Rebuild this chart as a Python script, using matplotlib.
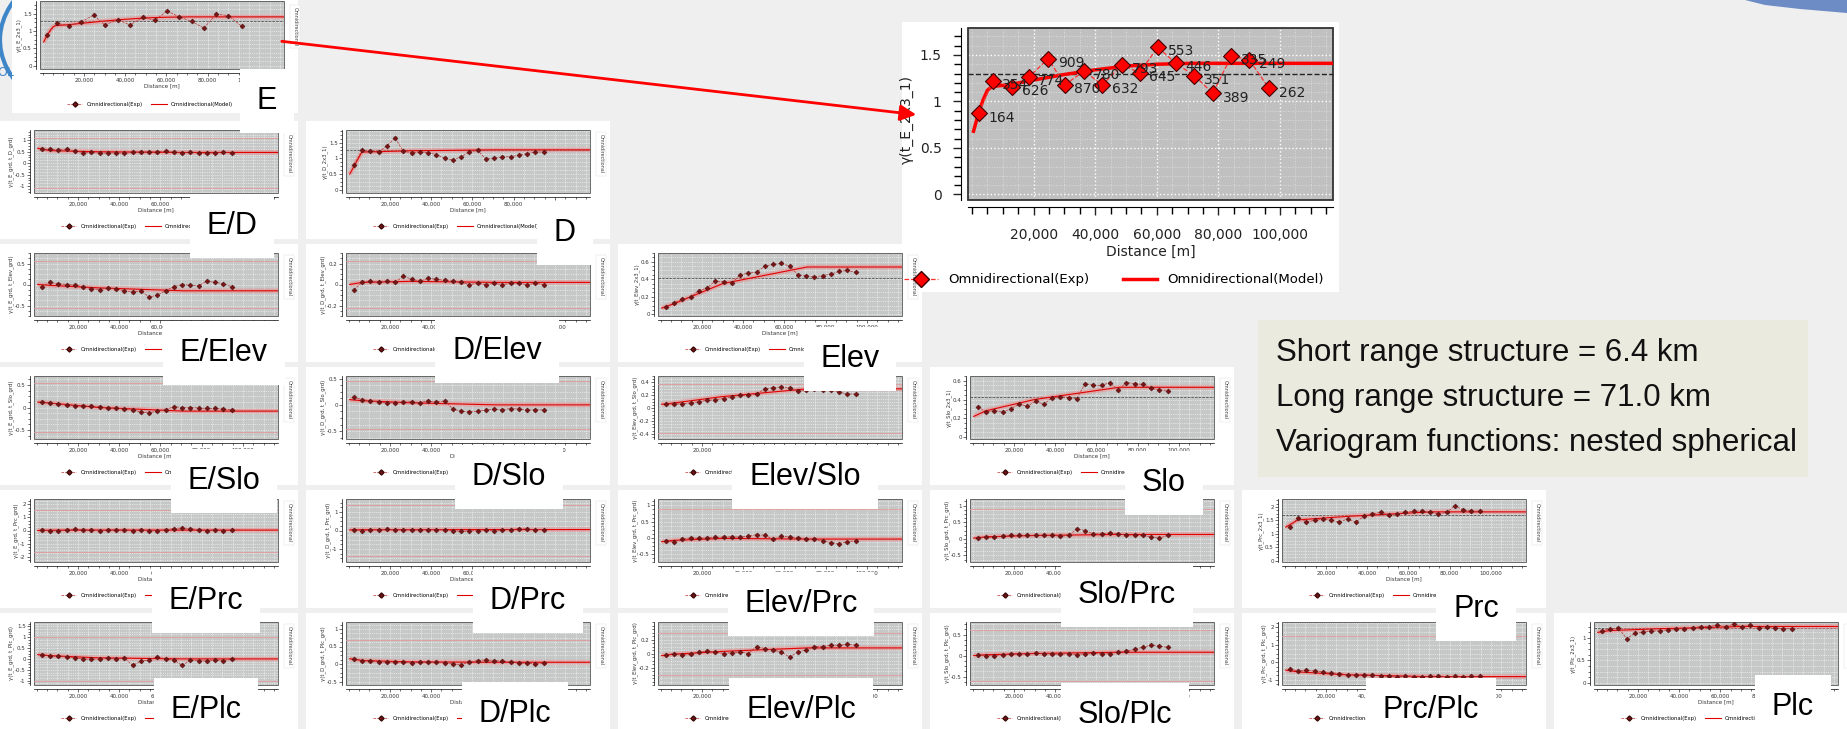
import matplotlib.pyplot as plt
from matplotlib.patches import Rectangle, FancyArrowPatch, Arc, Polygon
from matplotlib.lines import Line2D
from matplotlib.ticker import MultipleLocator, FixedLocator, FuncFormatter, AutoMinorLocator

W, H = 1847, 729

# ---- enlarged variogram (E) ----
big_dist = [2160, 6700, 12970, 18380, 24760, 30050, 36430, 42270, 48650,
            54380, 60320, 66160, 72210, 78160, 84210, 90050, 96430]
big_gamma = [0.872, 1.220, 1.159, 1.260, 1.461, 1.177, 1.328, 1.177, 1.393,
             1.310, 1.583, 1.410, 1.278, 1.087, 1.489, 1.446, 1.141]
big_pairs = [164, 354, 626, 774, 909, 870, 780, 632, 793,
             645, 553, 446, 351, 389, 335, 249, 262]
big_model_dist = [500, 2000, 3500, 5000, 6400, 12000, 20000, 30000, 40000,
                  50000, 60000, 71000, 117000]
big_model_gamma = [0.68, 0.86, 1.01, 1.12, 1.16, 1.18, 1.23, 1.29, 1.34,
                   1.38, 1.40, 1.41, 1.41]
big_sill = 1.296
dist_ticks = [20000, 40000, 60000, 80000, 100000]

# ---- small panels: shared lags ----
lags = [2500, 6500, 10500, 14500, 18500, 22500, 26500, 30500, 34500, 38500,
        42500, 46500, 50500, 54500, 58500, 62500, 66500, 70500, 74500, 78500,
        82500, 86500, 90500, 94500]
model_lags = [500, 6400, 30000, 71000, 117000]

gam_E_D = [0.62, 0.60, 0.58, 0.60, 0.55, 0.45, 0.48, 0.44, 0.45, 0.46, 0.43, 0.47,
           0.48, 0.49, 0.50, 0.52, 0.48, 0.46, 0.47, 0.45, 0.44, 0.46, 0.47, 0.45]
gam_D = [0.80, 1.25, 1.22, 1.20, 1.40, 1.65, 1.22, 1.18, 1.20, 1.18, 1.12, 1.00,
         0.95, 1.05, 1.20, 1.25, 0.98, 1.00, 1.05, 1.05, 1.10, 1.15, 1.20, 1.20]
gam_E_Elev = [-0.05, 0.05, 0.02, 0.00, -0.02, -0.05, -0.10, -0.12, -0.08, -0.10, -0.15, -0.18,
              -0.15, -0.30, -0.25, -0.15, -0.05, 0.00, -0.02, -0.03, 0.08, 0.05, 0.02, -0.05]
gam_D_Elev = [-0.05, 0.02, 0.03, 0.02, 0.03, 0.02, 0.08, 0.05, 0.03, 0.06, 0.05, 0.04,
              0.03, 0.02, 0.00, 0.01, 0.00, 0.01, 0.00, 0.01, 0.01, 0.00, 0.01, 0.00]
gam_Elev = [0.08, 0.13, 0.17, 0.20, 0.27, 0.30, 0.38, 0.37, 0.36, 0.45, 0.47, 0.48,
            0.55, 0.57, 0.58, 0.55, 0.45, 0.44, 0.43, 0.44, 0.46, 0.49, 0.50, 0.48]
gam_E_Slo = [0.12, 0.10, 0.08, 0.05, 0.04, 0.03, 0.03, 0.01, 0.00, -0.02, -0.03, -0.05,
             -0.10, -0.12, -0.08, -0.05, 0.02, 0.00, 0.00, -0.01, -0.02, -0.02, -0.03, -0.05]
gam_D_Slo = [0.15, 0.10, 0.08, 0.05, 0.04, 0.04, 0.05, 0.06, 0.04, 0.08, 0.05, 0.08,
             -0.08, -0.12, -0.13, -0.12, -0.10, -0.08, -0.09, -0.07, -0.08, -0.10, -0.09, -0.10]
gam_Elev_Slo = [0.07, 0.06, 0.07, 0.08, 0.10, 0.12, 0.13, 0.15, 0.18, 0.20, 0.20, 0.22,
                0.30, 0.32, 0.33, 0.32, 0.26, 0.28, 0.30, 0.28, 0.29, 0.25, 0.22, 0.22]
gam_Slo = [0.32, 0.27, 0.28, 0.27, 0.30, 0.35, 0.33, 0.38, 0.35, 0.42, 0.43, 0.42,
           0.41, 0.57, 0.55, 0.55, 0.58, 0.50, 0.58, 0.57, 0.56, 0.52, 0.50, 0.49]
gam_E_Prc = [0.05, -0.05, 0.00, 0.05, 0.08, 0.05, 0.03, 0.00, 0.02, 0.05, 0.03, 0.00,
             0.05, -0.05, 0.00, 0.05, 0.15, 0.20, 0.15, 0.05, -0.02, 0.05, 0.00, 0.02]
gam_D_Prc = [0.05, 0.00, 0.03, 0.05, 0.06, 0.05, 0.04, 0.03, 0.05, 0.04, 0.05, 0.02,
             0.00, -0.05, -0.03, 0.00, 0.02, 0.00, 0.02, 0.05, 0.10, 0.08, 0.05, 0.05]
gam_Elev_Prc = [-0.10, -0.12, -0.05, 0.00, -0.02, 0.00, 0.01, 0.02, 0.03, 0.02, 0.05, 0.10,
                0.08, -0.05, 0.05, 0.03, 0.00, -0.03, -0.05, -0.10, -0.15, -0.18, -0.12, -0.10]
gam_Slo_Prc = [0.03, 0.04, 0.05, 0.08, 0.10, 0.10, 0.10, 0.10, 0.10, 0.10, 0.08, 0.10,
               0.30, 0.25, 0.15, 0.15, 0.18, 0.15, 0.12, 0.10, 0.10, 0.05, 0.02, 0.10]
gam_Prc = [1.25, 1.60, 1.45, 1.50, 1.55, 1.50, 1.45, 1.55, 1.45, 1.65, 1.75, 1.80,
           1.70, 1.75, 1.80, 1.85, 1.85, 1.80, 1.75, 1.80, 2.05, 1.90, 1.85, 1.85]
gam_E_Plc = [0.20, 0.15, 0.12, 0.10, 0.05, 0.00, -0.02, 0.00, 0.02, 0.00, 0.05, -0.30,
             -0.10, -0.05, 0.10, 0.00, -0.05, -0.30, -0.05, -0.08, -0.10, -0.05, -0.08, 0.00]
gam_D_Plc = [0.15, 0.10, 0.08, 0.07, 0.05, 0.06, 0.05, 0.04, 0.05, 0.06, 0.05, 0.03,
             0.00, -0.02, 0.05, 0.10, 0.12, 0.10, 0.08, 0.05, 0.03, 0.02, 0.00, 0.02]
gam_Elev_Plc = [-0.02, 0.00, -0.02, -0.01, 0.02, 0.03, 0.02, 0.00, 0.01, 0.02, 0.00, 0.10,
                0.07, 0.05, 0.02, -0.05, 0.02, 0.05, 0.10, 0.10, 0.12, 0.12, 0.13, 0.12]
gam_Slo_Plc = [0.02, 0.00, 0.00, 0.02, 0.04, 0.05, 0.05, 0.06, 0.05, 0.04, 0.03, 0.05,
               0.02, 0.05, 0.06, 0.05, 0.05, 0.08, 0.10, 0.15, 0.20, 0.25, 0.22, 0.20]
gam_Prc_Plc = [-0.40, -0.50, -0.45, -0.50, -0.55, -0.60, -0.65, -0.70, -0.72, -0.70, -0.75, -0.78,
               -0.80, -0.85, -0.80, -0.85, -0.82, -0.80, -0.78, -0.82, -0.80, -0.85, -0.80, -0.80]
gam_Plc = [1.15, 1.20, 1.22, 0.98, 1.10, 1.12, 1.15, 1.15, 1.18, 1.20, 1.20, 1.22,
           1.25, 1.25, 1.28, 1.25, 1.30, 1.25, 1.28, 1.22, 1.25, 1.22, 1.20, 1.20]

mod_E_D = [0.65, 0.55, 0.50, 0.47, 0.47]
mod_D = [0.50, 1.20, 1.24, 1.27, 1.27]
mod_E_Elev = [0.00, -0.02, -0.08, -0.15, -0.15]
mod_D_Elev = [0.00, 0.02, 0.03, 0.02, 0.02]
mod_Elev = [0.07, 0.12, 0.35, 0.54, 0.54]
mod_E_Slo = [0.12, 0.10, 0.00, -0.08, -0.08]
mod_D_Slo = [0.10, 0.08, 0.04, 0.00, 0.00]
mod_Elev_Slo = [0.06, 0.08, 0.18, 0.30, 0.30]
mod_Slo = [0.22, 0.28, 0.40, 0.53, 0.53]
mod_E_Prc = [0.00, 0.02, 0.03, 0.03, 0.03]
mod_D_Prc = [0.03, 0.04, 0.04, 0.05, 0.05]
mod_Elev_Prc = [-0.12, -0.08, -0.02, -0.04, -0.04]
mod_Slo_Prc = [0.02, 0.06, 0.10, 0.13, 0.13]
mod_Prc = [1.25, 1.52, 1.65, 1.82, 1.82]
mod_E_Plc = [0.20, 0.15, 0.05, 0.00, 0.00]
mod_D_Plc = [0.15, 0.10, 0.06, 0.05, 0.05]
mod_Elev_Plc = [-0.03, -0.01, 0.03, 0.08, 0.08]
mod_Slo_Plc = [0.00, 0.02, 0.05, 0.08, 0.08]
mod_Prc_Plc = [-0.45, -0.55, -0.72, -0.82, -0.82]
mod_Plc = [1.12, 1.16, 1.20, 1.25, 1.25]

# sill of the direct variograms, +/- envelope of the cross variograms
sill = {'D': 1.27, 'Elev': 0.42, 'Slo': 0.43, 'Prc': 1.72, 'Plc': 1.22}
envelope = {'E/D': 1.1, 'E/Elev': 0.55, 'D/Elev': 0.22, 'E/Slo': 0.55,
            'D/Slo': 0.45, 'Elev/Slo': 0.38, 'E/Prc': 1.6, 'D/Prc': 1.4,
            'Elev/Prc': 0.9, 'Slo/Prc': 0.9, 'E/Plc': 1.0, 'D/Plc': 0.7,
            'Elev/Plc': 0.3, 'Slo/Plc': 0.6, 'Prc/Plc': 1.5}

info_lines = ['Short range structure = 6.4 km',
              'Long range structure = 71.0 km',
              'Variogram functions: nested spherical']

# (row, col, name, gamma, model, ylim, yticks, label centre in px)
panels = [
    (1, 0, 'E/D', gam_E_D, mod_E_D, (-1.3, 1.45), [-1, -0.5, 0, 0.5, 1], (232, 226)),
    (1, 1, 'D', gam_D, mod_D, (-0.1, 1.9), [0, 0.5, 1, 1.5], (565, 233)),
    (2, 0, 'E/Elev', gam_E_Elev, mod_E_Elev, (-0.75, 0.75), [-0.5, 0, 0.5], (224, 353)),
    (2, 1, 'D/Elev', gam_D_Elev, mod_D_Elev, (-0.3, 0.3), [-0.2, 0, 0.2], (497, 351)),
    (2, 2, 'Elev', gam_Elev, mod_Elev, (-0.02, 0.7), [0, 0.2, 0.4, 0.6], (850, 359)),
    (3, 0, 'E/Slo', gam_E_Slo, mod_E_Slo, (-0.7, 0.7), [-0.5, 0, 0.5], (224, 481)),
    (3, 1, 'D/Slo', gam_D_Slo, mod_D_Slo, (-0.65, 0.55), [-0.5, 0, 0.5], (509, 477)),
    (3, 2, 'Elev/Slo', gam_Elev_Slo, mod_Elev_Slo, (-0.48, 0.5), [-0.4, -0.2, 0, 0.2, 0.4], (805, 477)),
    (3, 3, 'Slo', gam_Slo, mod_Slo, (-0.02, 0.65), [0, 0.2, 0.4, 0.6], (1164, 483)),
    (4, 0, 'E/Prc', gam_E_Prc, mod_E_Prc, (-2.4, 2.4), [-2, -1, 0, 1, 2], (206, 601)),
    (4, 1, 'D/Prc', gam_D_Prc, mod_D_Prc, (-1.7, 1.7), [-1, 0, 1], (528, 601)),
    (4, 2, 'Elev/Prc', gam_Elev_Prc, mod_Elev_Prc, (-0.75, 1.2), [-0.5, 0, 0.5, 1], (801, 604)),
    (4, 3, 'Slo/Prc', gam_Slo_Prc, mod_Slo_Prc, (-0.7, 1.2), [-0.5, 0, 0.5, 1], (1127, 595)),
    (4, 4, 'Prc', gam_Prc, mod_Prc, (-0.05, 2.3), [0, 0.5, 1, 1.5, 2], (1476, 609)),
    (5, 0, 'E/Plc', gam_E_Plc, mod_E_Plc, (-1.2, 1.7), [-1, -0.5, 0, 0.5, 1, 1.5], (206, 710)),
    (5, 1, 'D/Plc', gam_D_Plc, mod_D_Plc, (-0.6, 1.2), [-0.5, 0, 0.5, 1], (515, 714)),
    (5, 2, 'Elev/Plc', gam_Elev_Plc, mod_Elev_Plc, (-0.45, 0.45), [-0.2, 0, 0.2], (801, 710)),
    (5, 3, 'Slo/Plc', gam_Slo_Plc, mod_Slo_Plc, (-0.7, 0.8), [-0.5, 0, 0.5], (1125, 715)),
    (5, 4, 'Prc/Plc', gam_Prc_Plc, mod_Prc_Plc, (-1.3, 2.3), [-1, 0, 1, 2], (1431, 710)),
    (5, 5, 'Plc', gam_Plc, mod_Plc, (-0.05, 1.35), [0, 0.5, 1], (1793, 707)),
]

SANS = ['Liberation Sans', 'DejaVu Sans']
thousands = FuncFormatter(lambda v, p: f'{v:,.0f}')
plain = FuncFormatter(lambda v, p: f'{v:g}')

fig = plt.figure(figsize=(W / 100, H / 100), dpi=100)
fig.patch.set_facecolor('#efefef')


def px_axes(x, y, w, h, **kw):
    return fig.add_axes([x / W, 1 - (y + h) / H, w / W, h / H], **kw)


bg = px_axes(0, 0, W, H, zorder=-5)
bg.set_xlim(0, W)
bg.set_ylim(H, 0)
bg.axis('off')

# slide decoration
bg.add_patch(Polygon([(1745, 0), (1847, 0), (1847, 13), (1800, 9), (1765, 5)],
                     closed=True, fc='#6d8cc6', ec='none'))
bg.add_patch(Arc((95, 40), 190, 150, theta1=140, theta2=225, color='#3f86c8', lw=3))
bg.text(-3, 72, 'OL', color='#3f86c8', fontsize=9, va='center')

small = []


def small_axes(L, T, gam, dist, mod, mdist, ylim, yticks, ylab, sill_v=None, env=None, h=63):
    ax = px_axes(L + 42, T, 244, h)
    ax.set_facecolor('#c6c8c8')
    ax.set_xlim(-1300, 117000)
    ax.set_ylim(*ylim)
    ax.xaxis.set_major_locator(FixedLocator(dist_ticks))
    ax.xaxis.set_minor_locator(MultipleLocator(5000))
    ax.xaxis.set_major_formatter(thousands)
    ax.set_yticks(yticks)
    ax.yaxis.set_minor_locator(AutoMinorLocator(4))
    ax.yaxis.set_major_formatter(plain)
    ax.grid(which='both', color='white', ls=':', lw=0.5)
    ax.set_axisbelow(True)
    ax.tick_params(labelsize=4, length=2, width=0.5, pad=1, colors='#333333')
    ax.tick_params(which='minor', length=1.2, width=0.4)
    for s in ['left', 'bottom']:
        ax.spines[s].set_position(('outward', 3))
        ax.spines[s].set_linewidth(0.5)
    for s in ['top', 'right']:
        ax.spines[s].set_visible(False)
    ax.add_patch(Rectangle((0, 0), 1, 1, transform=ax.transAxes, fill=False,
                           ec='#555555', lw=0.6, clip_on=False))
    if env is not None:
        ax.axhline(env, color='#e39a9a', lw=0.6)
        ax.axhline(-env, color='#e39a9a', lw=0.6)
    if sill_v is not None:
        ax.axhline(sill_v, color='#3a3a3a', ls='--', lw=0.5)
    ax.plot(mdist, mod, color='#f08080', lw=3.5, alpha=0.45, solid_capstyle='butt')
    ax.plot(mdist, mod, color='#e00000', lw=0.8)
    ax.plot(dist, gam, color='#c03030', ls='--', lw=0.5, marker='D', ms=2.6,
            mfc='#7a1414', mec='#3a0a0a', mew=0.3)
    ax.set_xlabel('Distance [m]', fontsize=4, labelpad=1, color='#333333')
    ax.set_ylabel(ylab, fontsize=3.8, labelpad=1, color='#333333')
    h_exp = Line2D([], [], color='#c03030', ls='--', lw=0.5, marker='D', ms=2.6,
                   mfc='#7a1414', mec='#3a0a0a')
    h_mod = Line2D([], [], color='#e00000', lw=0.8)
    ax.legend([h_exp, h_mod], ['Omnidirectional(Exp)', 'Omnidirectional(Model)'],
              loc='upper center', bbox_to_anchor=(0.45, -0.42), ncol=2, fontsize=3.8,
              frameon=False, handlelength=3, columnspacing=1.5)
    ax.text(1.045, 0.62, 'Omnidirectional', rotation=270, fontsize=3.5, color='#444444',
            transform=ax.transAxes, ha='center', va='center',
            bbox=dict(fc='white', ec='#dddddd', lw=0.3, pad=1.5))
    small.append(ax)
    return ax


# E panel (row 0) is the small copy of the enlarged chart
bg.add_patch(Rectangle((12, -4), 286, 117, fc='white', ec='none'))
small_axes(-2, 1, big_gamma, big_dist, big_model_gamma, big_model_dist,
           (-0.1, 1.87), [0, 0.5, 1, 1.5], 'γ(t_E_2x3_1)', sill_v=big_sill, h=68)

for r, c, name, gam, mod, ylim, yticks, _ in panels:
    L, T = -8 + 312 * c, 7 + 123 * r
    bg.add_patch(Rectangle((L + 2, T - 9), 304, 118, fc='white', ec='none'))
    parts = name.split('/')
    if len(parts) == 1:
        ylab = f'γ(t_{name}_2x3_1)'
        small_axes(L, T, gam, lags, mod, model_lags, ylim, yticks, ylab, sill_v=sill[name])
    else:
        ylab = f'γ(t_{parts[0]}_grd, t_{parts[1]}_grd)'
        small_axes(L, T, gam, lags, mod, model_lags, ylim, yticks, ylab, env=envelope[name])

# ---- enlarged chart ----
bg.add_patch(Rectangle((902, 22), 437, 270, fc='white', ec='none'))
ax = px_axes(968, 28, 365, 172)
ax.set_facecolor('#c0c0c0')
ax.set_xlim(-1300, 117200)
ax.set_ylim(-0.06, 1.79)
ax.xaxis.set_major_locator(FixedLocator(dist_ticks))
ax.xaxis.set_minor_locator(MultipleLocator(5000))
ax.xaxis.set_major_formatter(thousands)
ax.set_yticks([0, 0.5, 1, 1.5])
ax.yaxis.set_minor_locator(MultipleLocator(0.1))
ax.yaxis.set_major_formatter(plain)
ax.grid(which='major', color='white', ls=':', lw=1.0)
ax.grid(which='minor', color='#dcdcdc', ls=':', lw=0.7)
ax.set_axisbelow(True)
ax.tick_params(labelsize=10, length=6, width=1, colors='#222222')
ax.tick_params(axis='x', pad=9)
ax.tick_params(axis='y', pad=8)
ax.tick_params(which='minor', length=5, width=1)
for s in ['left', 'bottom']:
    ax.spines[s].set_position(('outward', 5))
for s in ['top', 'right']:
    ax.spines[s].set_visible(False)
ax.add_patch(Rectangle((0, 0), 1, 1, transform=ax.transAxes, fill=False,
                       ec='#333333', lw=1.3, clip_on=False))
ax.axhline(big_sill, color='#222222', ls='--', lw=1.0)
ax.plot(big_model_dist, big_model_gamma, color='#ff0000', lw=2.5)
ax.plot(big_dist, big_gamma, color='#ff3030', ls='--', lw=0.9, marker='D', ms=8,
        mfc='#ff0000', mec='#400000', mew=0.8)
for xd, yd, n in zip(big_dist, big_gamma, big_pairs):
    ax.annotate(str(n), (xd, yd), xytext=(7, -3), textcoords='offset points',
                fontsize=10, va='center', color='#222222')
ax.set_xlabel('Distance [m]', fontsize=10, color='#222222')
ax.xaxis.set_label_coords(0.5, -0.26)
ax.set_ylabel('γ(t_E_2x3_1)', fontsize=10, color='#222222')
ax.yaxis.set_label_coords(-0.15, 0.47)
h_exp = Line2D([], [], color='#ff3030', ls='--', lw=0.9, marker='D', ms=8,
               mfc='#ff0000', mec='#400000')
h_mod = Line2D([], [], color='#ff0000', lw=2.5)
ax.legend([h_exp, h_mod], ['Omnidirectional(Exp)', 'Omnidirectional(Model)'],
          loc='center', bbox_to_anchor=(0.40, -0.465), ncol=2, fontsize=9.5,
          frameon=False, handlelength=2.6, columnspacing=2.5)

# ---- overlay: labels, arrow, info box ----
ov = px_axes(0, 0, W, H, zorder=20)
ov.set_xlim(0, W)
ov.set_ylim(H, 0)
ov.axis('off')

ov.add_patch(FancyArrowPatch((279, 41), (919, 115), arrowstyle='-|>',
                             mutation_scale=24, color='#ff0000', lw=2))

label_box = dict(boxstyle='square,pad=0.55', fc='white', ec='none')
labels = [ov.text(267, 101, 'E', fontsize=22, family=SANS, ha='center', va='center',
                  bbox=label_box)]
for r, c, name, gam, mod, ylim, yticks, (lx, ly) in panels:
    labels.append(ov.text(lx, ly, name, fontsize=22, family=SANS, ha='center',
                          va='center', bbox=label_box))

ov.add_patch(Rectangle((1258, 320), 550, 157, fc='#ebeadf', ec='none'))
for i, line in enumerate(info_lines):
    ov.text(1276, 353 + 45 * i, line, fontsize=22.5, family=SANS, va='center',
            color='#111111')

# texts of the small charts that sit wholly under a label box are not drawn
fig.canvas.draw()
rend = fig.canvas.get_renderer()
boxes = [t.get_bbox_patch().get_window_extent(rend) for t in labels]
for sa in small:
    texts = list(sa.get_xticklabels()) + [sa.xaxis.label]
    leg = sa.get_legend()
    if leg is not None:
        texts += list(leg.get_texts())
    for t in texts:
        if not t.get_visible() or not t.get_text():
            continue
        e = t.get_window_extent(rend)
        for b in boxes:
            if b.x0 <= e.x0 and e.x1 <= b.x1 and b.y0 <= e.y0 and e.y1 <= b.y1:
                t.set_visible(False)
                break

fig.savefig('out.png', dpi=100, facecolor=fig.get_facecolor())
